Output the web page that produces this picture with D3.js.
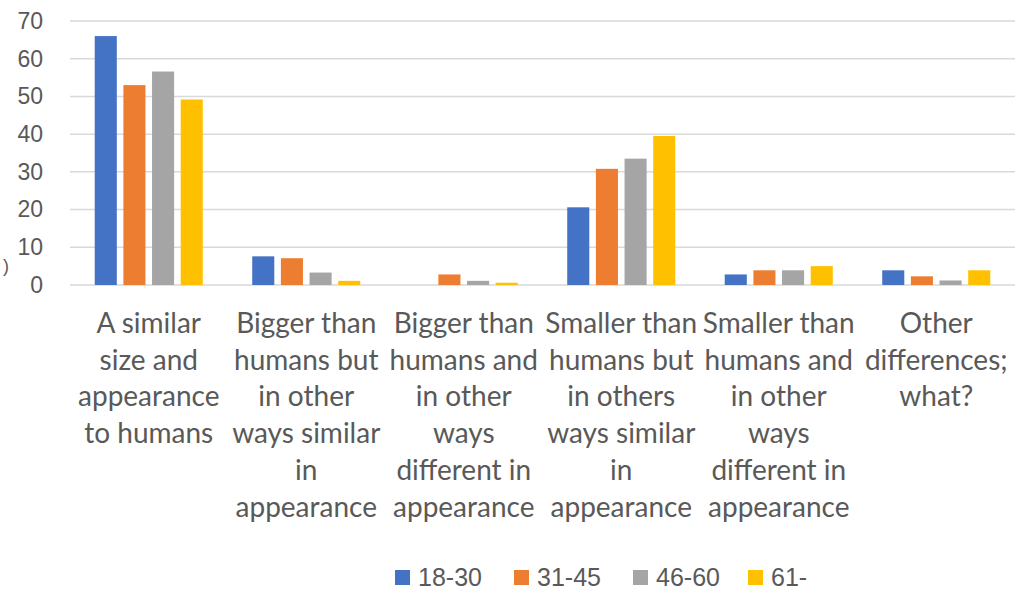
<!DOCTYPE html>
<html>
<head>
<meta charset="utf-8">
<script src="https://cdn.jsdelivr.net/npm/d3@7/dist/d3.min.js"></script>
<style>
  html, body { margin: 0; padding: 0; background: #fff; }
  svg { display: block; }
</style>
</head>
<body>
<svg id="chart" width="1016" height="591"></svg>
<script>
// ---- data ----
const categories = [
  "A similar\nsize and\nappearance\nto humans",
  "Bigger than\nhumans but\nin other\nways similar\nin\nappearance",
  "Bigger than\nhumans and\nin other\nways\ndifferent in\nappearance",
  "Smaller than\nhumans but\nin others\nways similar\nin\nappearance",
  "Smaller than\nhumans and\nin other\nways\ndifferent in\nappearance",
  "Other\ndifferences;\nwhat?"
];
const seriesNames = ["18-30", "31-45", "46-60", "61-"];
const s1830 = [66, 7.6, 0, 20.6, 2.8, 3.9];
const s3145 = [53, 7.1, 2.8, 30.8, 3.9, 2.3];
const s4660 = [56.6, 3.3, 1.1, 33.5, 3.9, 1.2];
const s61   = [49.2, 1.1, 0.6, 39.5, 5.0, 3.9];
const yTicks = [0, 10, 20, 30, 40, 50, 60, 70];
const colors = ["#4472C4", "#ED7D31", "#A5A5A5", "#FFC000"];

const seriesValues = [s1830, s3145, s4660, s61];

// ---- layout ----
const svg = d3.select("#chart");
const mLeft = 70, mRight = 1015, mTop = 21, mBottom = 285;

const x0 = d3.scaleBand().domain(d3.range(categories.length)).range([mLeft, mRight]).padding(0);
const bw = x0.bandwidth();
const x1 = d3.scaleBand().domain(seriesNames).range([bw * 0.157, bw * 0.843]).paddingInner(0.23).paddingOuter(0);
const y = d3.scaleLinear().domain([0, 70]).range([mBottom, mTop]);
const color = d3.scaleOrdinal().domain(seriesNames).range(colors);

// gridlines
svg.append("g").selectAll("line").data(yTicks).join("line")
  .attr("x1", mLeft).attr("x2", mRight)
  .attr("y1", d => y(d)).attr("y2", d => y(d))
  .attr("stroke", "#D9D9D9").attr("stroke-width", 1.5);

// y axis labels
const yAxis = d3.axisLeft(y).tickValues(yTicks).tickSize(0).tickPadding(0);
const yg = svg.append("g").attr("transform", "translate(43,0)").call(yAxis);
yg.select(".domain").remove();
yg.selectAll("text")
  .attr("fill", "#595959")
  .style("font-family", "'Liberation Sans', Arial, sans-serif")
  .style("font-size", "23px");

// bars
const groups = svg.append("g").selectAll("g").data(categories.map((c, i) => i)).join("g")
  .attr("transform", i => `translate(${x0(i)},0)`);
groups.selectAll("rect")
  .data(i => seriesNames.map((s, k) => ({ s, v: seriesValues[k][i] })))
  .join("rect")
  .attr("x", d => x1(d.s))
  .attr("width", x1.bandwidth())
  .attr("y", d => y(d.v))
  .attr("height", d => y(0) - y(d.v))
  .attr("fill", d => color(d.s));

// x category labels
const lineH = 36.7;
const xl = svg.append("g").selectAll("text").data(categories).join("text")
  .attr("x", (d, i) => x0(i) + bw / 2)
  .attr("y", 333)
  .attr("text-anchor", "middle")
  .attr("fill", "#595959")
  .style("font-family", "Lato, 'Open Sans', sans-serif")
  .style("font-size", "28px");
xl.selectAll("tspan").data(d => d.split("\n")).join("tspan")
  .attr("x", function () { return d3.select(this.parentNode).attr("x"); })
  .attr("dy", (d, j) => j === 0 ? 0 : lineH)
  .text(d => d);

// stray partial axis-title glyph at left edge
svg.append("text").attr("x", 3).attr("y", 272).attr("fill", "#595959")
  .style("font-family", "'Liberation Sans', Arial, sans-serif").style("font-size", "18px").text(")");

// legend
const legendX = [395, 514, 633, 748];
const lg = svg.append("g").selectAll("g").data(seriesNames).join("g")
  .attr("transform", (d, i) => `translate(${legendX[i]},570)`);
lg.append("rect").attr("width", 15).attr("height", 15).attr("fill", d => color(d));
lg.append("text").attr("x", 23).attr("y", 16)
  .attr("fill", "#595959")
  .style("font-family", "'Liberation Sans', Arial, sans-serif")
  .style("font-size", "25px")
  .text(d => d);
</script>
</body>
</html>
